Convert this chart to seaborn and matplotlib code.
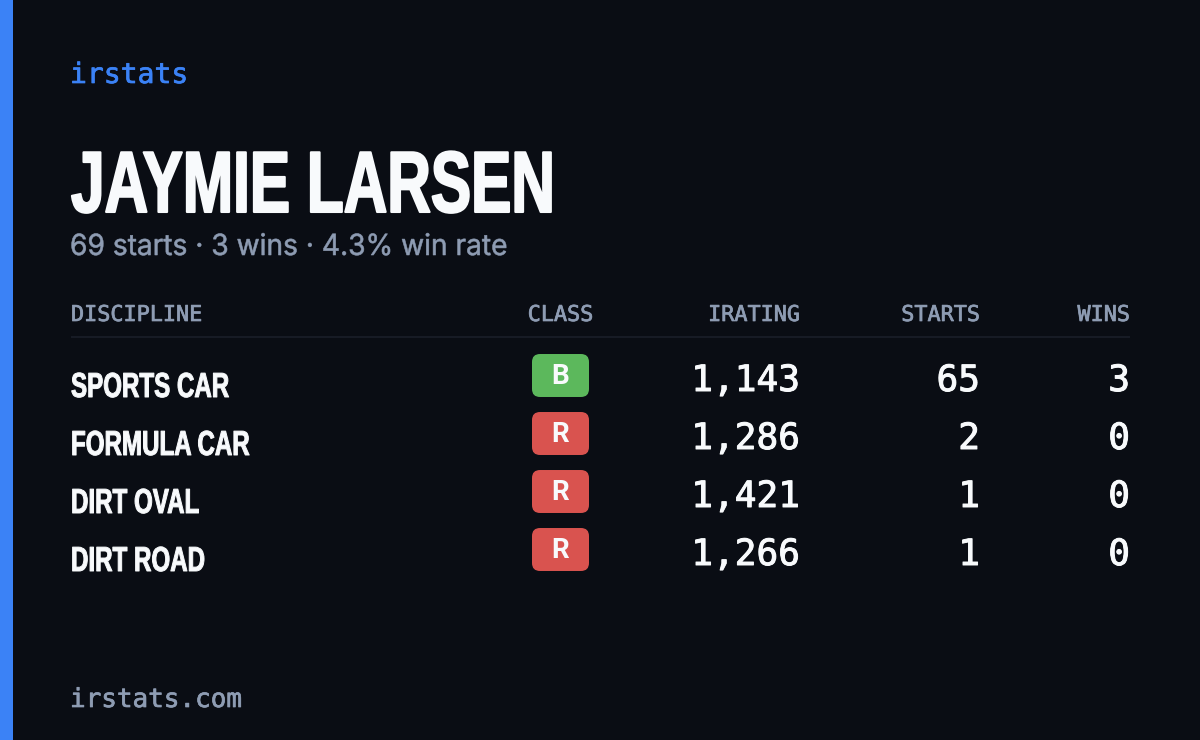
import matplotlib
matplotlib.use('Agg')
import matplotlib.pyplot as plt
import matplotlib.patheffects as pe
import pandas as pd
import seaborn as sns
from matplotlib.patches import BoxStyle
from matplotlib.transforms import Affine2D

# card contents
brand = "irstats"
driver = "JAYMIE LARSEN"
summary = "69 starts · 3 wins · 4.3% win rate"
footer = "irstats.com"

headers = ["DISCIPLINE", "CLASS", "IRATING", "STARTS", "WINS"]
disciplines = ["SPORTS CAR", "FORMULA CAR", "DIRT OVAL", "DIRT ROAD"]
classes = ["B", "R", "R", "R"]
iratings = [1143, 1286, 1421, 1266]
starts = [65, 2, 1, 1]
wins = [3, 0, 0, 0]

BG = '#0a0d14'
BLUE = '#3b82f6'
GREY = '#8e9cb3'
WHITE = '#f8fafc'
RULE = '#171b25'
class_colors = {"B": '#5cb85c', "R": '#d9534f'}

CONDENSED = 'Liberation Sans'
MONO = 'DejaVu Sans Mono'
SANS = 'Inter'

ROW_STEP = 58


class Squeeze(pe.AbstractPathEffect):
    """No condensed font installed, so narrow the glyphs around the text origin."""

    def __init__(self, sx, stroke=0.0):
        super().__init__()
        self.sx = sx
        self.stroke = stroke

    def draw_path(self, renderer, gc, tpath, affine, rgbFace=None):
        x0 = affine.get_matrix()[0, 2]
        squeezed = affine + Affine2D().translate(-x0, 0).scale(self.sx, 1).translate(x0, 0)
        gc0 = renderer.new_gc()
        gc0.copy_properties(gc)
        gc0.set_foreground(rgbFace)
        gc0.set_linewidth(self.stroke)
        renderer.draw_path(gc0, tpath, squeezed, rgbFace)
        gc0.restore()


def mono_text(x, y, s, color, size, ha='left', weight=0.5):
    # thin stroke stands in for a medium weight
    ax.text(x, y, s, color=color, family=MONO, fontsize=size, va='baseline', ha=ha,
            path_effects=[pe.withStroke(linewidth=weight, foreground=color)])


sns.set_theme(style='white')
fig, ax = plt.subplots(figsize=(12, 7.4), dpi=100)
fig.patch.set_facecolor(BG)
ax.set_position([0, 0, 1, 1])
ax.set_facecolor(BG)
ax.set_xlim(0, 1200)
ax.set_ylim(740, 0)
ax.axis('off')

# accent bar and header rule
ax.axvspan(0, 13, color=BLUE, lw=0)
ax.hlines(337, 71, 1130, color=RULE, lw=1.5)

# text blocks
mono_text(70, 83, brand, BLUE, 20.2)
ax.text(71, 212, driver, color=WHITE, family=CONDENSED, weight='bold', fontsize=62.5, va='baseline',
        path_effects=[Squeeze(0.695, stroke=1.5)])
ax.text(70, 255, summary, color=GREY, family=SANS, fontsize=21, va='baseline',
        path_effects=[Squeeze(0.965, stroke=0.4)])
mono_text(70, 707, footer, GREY, 18.7)

# column headers
mono_text(71, 321, headers[0], GREY, 15.7)
mono_text(560.5, 321, headers[1], GREY, 15.7, ha='center')
mono_text(800, 321, headers[2], GREY, 15.7, ha='right')
mono_text(980, 321, headers[3], GREY, 15.7, ha='right')
mono_text(1130, 321, headers[4], GREY, 15.7, ha='right')

# class badges as a scatter with a rounded rectangle marker
badge = BoxStyle("Round", pad=0, rounding_size=0.14)(-0.5, -0.377, 1, 0.754, 1)
table = pd.DataFrame({
    "x": [560.5] * len(classes),
    "y": [375.5 + ROW_STEP * i for i in range(len(classes))],
    "cls": classes,
})
sns.scatterplot(data=table, x="x", y="y", hue="cls", palette=class_colors, marker=badge,
                s=(57 * 0.72) ** 2, linewidth=0, edgecolor='none', legend=False, ax=ax)
ax.set_xlim(0, 1200)
ax.set_ylim(740, 0)

# table rows
for i, name in enumerate(disciplines):
    dy = ROW_STEP * i
    ax.text(71, 397 + dy, name, color=WHITE, family=CONDENSED, weight='bold', fontsize=25, va='baseline',
            path_effects=[Squeeze(0.695, stroke=0.7)])
    ax.text(560.5, 384 + dy, classes[i], color=WHITE, family='Roboto', weight='bold', fontsize=20,
            va='baseline', ha='center')
    mono_text(800, 391 + dy, f"{iratings[i]:,}", WHITE, 26, ha='right', weight=0.7)
    mono_text(980, 391 + dy, str(starts[i]), WHITE, 26, ha='right', weight=0.7)
    mono_text(1130, 391 + dy, str(wins[i]), WHITE, 26, ha='right', weight=0.7)

fig.savefig('out.png', dpi=100, facecolor=BG)
